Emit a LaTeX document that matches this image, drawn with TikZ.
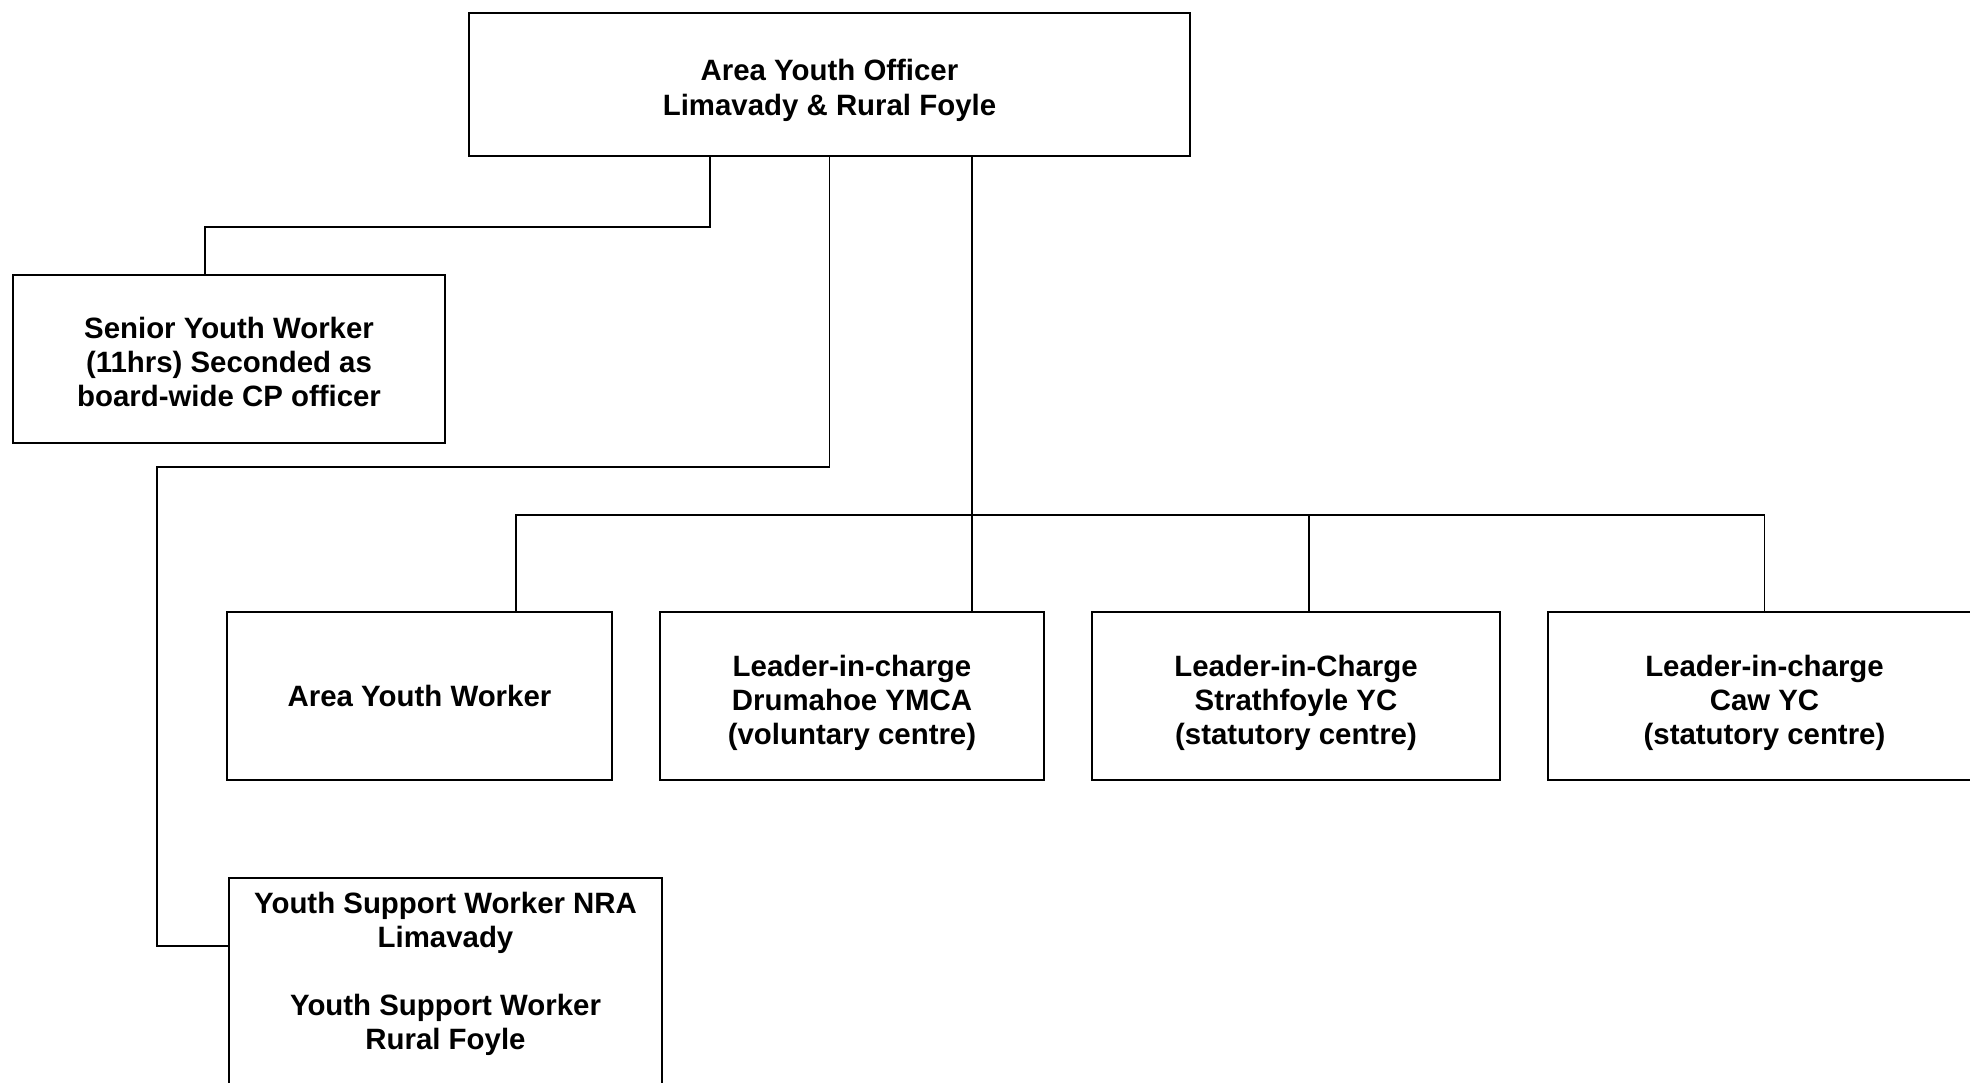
\documentclass[tikz,border=0pt]{standalone}
\usepackage{fontspec}
\setmainfont{Liberation Sans}
\usetikzlibrary{positioning}
\newcommand{\lineup}[1][13.3pt]{\rule{0pt}{#1}}

\begin{document}
\begin{tikzpicture}[x=0.5pt, y=-0.5pt, node distance=24pt,
    box/.style={rectangle, draw, line width=1pt, align=center, inner sep=0pt, outer sep=0pt, minimum height=84pt,
        font=\fontsize{14.7}{17}\selectfont\bfseries},
    link/.style={line width=0.75pt}]
    \useasboundingbox (0,0) rectangle (1970,1082);

    \node[box, minimum width=360.5pt, minimum height=71.7pt, font=\fontsize{14.7}{17.5}\selectfont\bfseries] (aoff) at (829.5,84.3) {\lineup[17.1pt]Area Youth Officer\\Limavady \& Rural Foyle};
    \node[box, minimum width=216pt] (senior) at (229,359) {\lineup Senior Youth Worker\\(11hrs) Seconded as\\board-wide CP officer};

    % row of centre staff
    \node[box, minimum width=192.5pt] (ayw) at (419.5,696) {Area Youth Worker};
    \node[box, minimum width=192pt, right=of ayw] (drum) {\lineup[17.1pt]Leader-in-charge\\Drumahoe YMCA\\(voluntary centre)};
    \node[box, minimum width=204pt, right=of drum] (strath) {\lineup[17.1pt]Leader-in-Charge\\Strathfoyle YC\\(statutory centre)};
    \node[box, minimum width=216.5pt, right=of strath] (caw) {\lineup[17.1pt]Leader-in-charge\\Caw YC\\(statutory centre)};

    \node[box, anchor=north, minimum width=216.5pt, minimum height=0pt, inner ysep=7.3pt] (ysw) at (445.5,878)
        {\parbox[t][120pt][t]{210pt}{\centering Youth Support Worker NRA\\Limavady\\[17pt]Youth Support Worker\\Rural Foyle}};

    \coordinate (elbowA) at (710,227);
    \coordinate (elbowB) at (157,467);
    \coordinate (elbowC) at (157,946);
    \coordinate (bus) at (972,515);

    \draw[link] (aoff.south -| elbowA) -- (elbowA) -| ([xshift=-12pt]senior.north);
    \draw[link] (aoff.south) |- (elbowB) -- (elbowC) -- (elbowC -| ysw.west);
    \draw[link] (aoff.south -| bus) -- (drum.north -| bus);
    \draw[link] ([xshift=48.25pt]ayw.north) |- (caw.north |- bus) -- (caw.north);
    \draw[link] ([xshift=6.5pt]strath.north) -- ([xshift=6.5pt]strath.north |- bus);
\end{tikzpicture}
\end{document}
